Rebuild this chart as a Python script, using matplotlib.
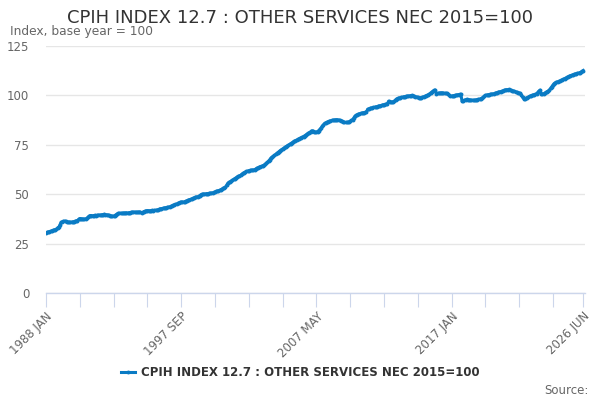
import numpy as np
import pandas as pd
import matplotlib
matplotlib.use('Agg')
import matplotlib.pyplot as plt

title = 'CPIH INDEX 12.7 : OTHER SERVICES NEC 2015=100'
series_name = 'CPIH INDEX 12.7 : OTHER SERVICES NEC 2015=100'

# monthly index values, one row per year, 1988 JAN .. 2026 JUN
values = [
    30.5, 30.7, 30.9, 31.1, 31.3, 31.5, 31.7, 31.9, 32.1, 32.3, 33.0, 33.3,   # 1988
    34.5, 35.8, 36.0, 36.3, 36.4, 36.2, 36.0, 35.9, 35.9, 35.8, 35.9, 36.0,   # 1989
    36.1, 36.3, 36.5, 36.6, 37.3, 37.7, 37.6, 37.5, 37.4, 37.4, 37.5, 37.8,   # 1990
    38.3, 38.9, 39.2, 39.2, 39.1, 39.2, 39.3, 39.2, 39.3, 39.4, 39.5, 39.4,   # 1991
    39.6, 39.7, 39.8, 39.7, 39.6, 39.5, 39.3, 39.2, 39.0, 38.9, 38.9, 39.2,   # 1992
    39.6, 40.0, 40.3, 40.3, 40.4, 40.3, 40.4, 40.5, 40.5, 40.6, 40.5, 40.6,   # 1993
    40.7, 40.8, 40.9, 40.9, 41.0, 40.8, 40.9, 40.9, 41.0, 40.9, 40.6, 40.8,   # 1994
    41.2, 41.4, 41.6, 41.7, 41.7, 41.6, 41.7, 41.8, 41.7, 41.8, 41.9, 41.9,   # 1995
    42.1, 42.3, 42.6, 42.7, 42.8, 42.9, 43.1, 43.2, 43.3, 43.4, 43.6, 43.8,   # 1996
    44.1, 44.4, 44.6, 44.8, 45.0, 45.3, 45.6, 45.8, 46.0, 46.1, 46.0, 46.2,   # 1997
    46.5, 46.7, 47.0, 47.2, 47.4, 47.6, 47.9, 48.1, 48.4, 48.6, 48.7, 48.9,   # 1998
    49.3, 49.8, 50.0, 50.1, 50.1, 50.2, 50.3, 50.3, 50.4, 50.5, 50.6, 50.7,   # 1999
    50.9, 51.1, 51.4, 51.6, 51.8, 52.0, 52.3, 52.6, 53.0, 53.3, 53.6, 54.5,   # 2000
    55.5, 56.0, 56.3, 56.7, 57.1, 57.5, 57.9, 58.3, 58.7, 59.0, 59.3, 59.6,   # 2001
    60.1, 60.5, 60.9, 61.2, 61.5, 61.7, 61.9, 62.0, 62.1, 62.2, 62.3, 62.3,   # 2002
    62.8, 63.2, 63.4, 63.7, 64.0, 64.2, 64.4, 64.7, 65.1, 65.6, 66.1, 66.8,   # 2003
    67.5, 68.3, 68.8, 69.1, 69.6, 70.1, 70.6, 71.1, 71.6, 72.1, 72.5, 72.9,   # 2004
    73.3, 73.7, 74.1, 74.5, 74.8, 75.2, 75.6, 76.0, 76.4, 76.8, 77.1, 77.4,   # 2005
    77.7, 78.0, 78.3, 78.6, 78.9, 79.2, 79.6, 80.0, 80.4, 80.8, 81.2, 81.6,   # 2006
    82.1, 82.0, 81.6, 81.3, 81.4, 81.7, 82.2, 82.8, 83.5, 84.3, 85.1, 85.8,   # 2007
    86.1, 86.4, 86.7, 86.9, 87.1, 87.3, 87.4, 87.5, 87.6, 87.7, 87.7, 87.6,   # 2008
    87.4, 87.2, 87.0, 86.7, 86.4, 86.3, 86.3, 86.4, 86.6, 86.9, 87.3, 87.7,   # 2009
    88.5, 89.4, 89.9, 90.2, 90.5, 90.7, 90.9, 91.0, 91.2, 91.3, 91.4, 91.6,   # 2010
    93.0, 93.2, 93.4, 93.6, 93.7, 93.9, 94.0, 94.2, 94.3, 94.5, 94.7, 94.8,   # 2011
    95.0, 95.2, 95.3, 95.4, 95.5, 95.8, 97.1, 96.9, 96.7, 96.6, 96.8, 97.1,   # 2012
    97.8, 98.3, 98.5, 98.7, 98.8, 99.0, 99.1, 99.3, 99.4, 99.5, 99.6, 99.7,   # 2013
    99.8, 99.9, 100.0, 99.8, 99.6, 99.4, 99.2, 99.0, 98.9, 98.8, 98.9, 99.1,  # 2014
    99.3, 99.5, 99.8, 100.0, 100.3, 100.7, 101.2, 101.7, 102.1, 102.5, 102.7, 100.8,  # 2015
    101.0, 101.1, 101.2, 101.3, 101.3, 101.2, 101.1, 101.0, 101.0, 100.6, 100.1, 99.6,  # 2016
    99.7, 99.8, 99.9, 100.0, 100.1, 100.3, 100.4, 100.5, 100.5, 97.1, 97.3, 97.5,   # 2017
    97.8, 98.0, 97.9, 97.8, 97.7, 97.6, 97.6, 97.5, 97.6, 97.7, 97.9, 98.0,   # 2018
    98.1, 98.3, 98.6, 99.0, 99.5, 100.0, 100.2, 100.3, 100.4, 100.5, 100.6, 100.7,  # 2019
    100.8, 101.0, 101.2, 101.4, 101.6, 101.8, 101.9, 102.1, 102.3, 102.5, 102.7, 102.9,  # 2020
    102.9, 103.0, 102.8, 102.6, 102.4, 102.2, 102.0, 101.8, 101.6, 101.4, 101.2, 101.0,  # 2021
    100.2, 99.0, 98.3, 98.4, 98.6, 98.9, 99.2, 99.6, 99.8, 100.0, 100.2, 100.4,   # 2022
    100.5, 100.9, 101.5, 102.2, 102.7, 100.6, 100.5, 100.8, 101.2, 101.5, 101.9, 102.2,  # 2023
    102.8, 103.6, 104.4, 105.2, 106.0, 106.4, 106.7, 106.9, 107.1, 107.3, 107.6, 107.9,  # 2024
    108.2, 108.5, 108.8, 109.1, 109.4, 109.7, 110.0, 110.2, 110.4, 110.6, 110.8, 111.0,  # 2025
    111.2, 111.3, 111.5, 111.8, 112.2, 112.6,                                            # 2026
]

months = pd.date_range('1988-01-01', periods=len(values), freq='MS')
month_labels = [d.strftime('%Y ') + d.strftime('%b').upper() for d in months]
label_months = ['1988 JAN', '1997 SEP', '2007 MAY', '2017 JAN', '2026 JUN']
y_ticks = [0, 25, 50, 75, 100, 125]

blue = '#0a7bc4'
grey = '#666666'
axis_col = '#ccd6eb'

fig = plt.figure(figsize=(6, 4), dpi=100)
ax = fig.add_axes([46 / 600, 1 - 293 / 400, 539 / 600, 247 / 400])

x = np.arange(len(values))
ax.plot(x, values, color=blue, lw=2.2, marker='o', ms=2.8, mew=0,
        label=series_name)

# category axis: a tick every 29 months, label every 4th
tick_pos = list(range(0, len(values) - 10, 29)) + [len(values) - 1]
ax.set_xticks(tick_pos)
ax.set_xticklabels([month_labels[p] if month_labels[p] in label_months else ''
                    for p in tick_pos],
                   rotation=45, ha='right', rotation_mode='anchor',
                   color=grey, fontsize=8.5)
ax.set_xlim(0, len(values) - 1 + 1.5)
ax.set_ylim(0, 125)
ax.set_yticks(y_ticks)
ax.set_yticklabels([str(v) for v in y_ticks], color=grey, fontsize=8.5)

ax.grid(axis='y', color='#e6e6e6', lw=1)
ax.set_axisbelow(True)
for s in ['top', 'right', 'left']:
    ax.spines[s].set_visible(False)
ax.spines['bottom'].set_color(axis_col)
ax.spines['bottom'].set_linewidth(1)
ax.tick_params(axis='x', length=10, color=axis_col, pad=2)
ax.tick_params(axis='y', length=0, pad=12)

fig.text(0.5, 1 - 18 / 400, title, ha='center', va='center',
         fontsize=13, color='#333333')
fig.text(10 / 600, 1 - 32 / 400, 'Index, base year = 100', ha='left',
         va='center', fontsize=8.8, color=grey)

leg = fig.legend(loc='center', bbox_to_anchor=(0.5, 1 - 373 / 400),
                 frameon=False, handlelength=1.2, handletextpad=0.5,
                 prop={'size': 8.5, 'weight': 'bold'})
for t in leg.get_texts():
    t.set_color('#333333')

fig.text(589 / 600, 1 - 390 / 400, 'Source:', ha='right', va='center',
         fontsize=8.5, color=grey)

fig.savefig('out.png', dpi=100)
